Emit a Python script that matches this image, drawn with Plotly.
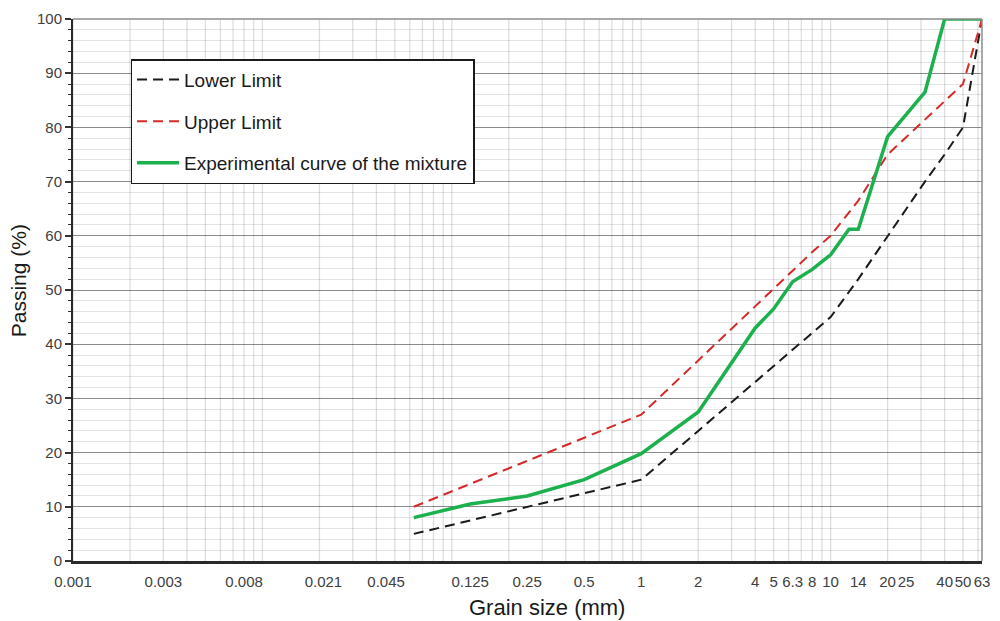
import math
import plotly.graph_objects as go

# ---- data ----
limit_sizes = [0.063, 0.125, 0.25, 0.5, 1, 2, 4, 8, 10, 14, 20, 31.5, 40, 50, 63]
lower_limit = [5, 7.5, 10, 12.5, 15, 24, 33, 42, 45, 52, 60, 70, 75, 80, 100]
upper_limit = [10, 14.2, 18.5, 22.7, 27, 37, 47, 57, 60, 66.5, 75, 81.4, 84.8, 88, 100]

mix_sizes = [0.063, 0.125, 0.25, 0.5, 1, 2, 4, 5, 6.3, 8, 10, 12.5, 14, 20, 31.5, 40, 63]
mix_passing = [8, 10.5, 12, 15, 19.8, 27.5, 43, 46.5, 51.5, 53.8, 56.5, 61.2, 61.2, 78.3, 86.5, 100, 100]

tick_values = [0.001, 0.003, 0.008, 0.021, 0.045, 0.125, 0.25, 0.5, 1, 2, 4, 5, 6.3, 8, 10, 14, 20, 25, 40, 50, 63]
tick_labels = ["0.001", "0.003", "0.008", "0.021", "0.045", "0.125", "0.25", "0.5", "1", "2", "4",
               "5", "6.3", "8", "10", "14", "20", "25", "40", "50", "63"]

x_min, x_max = 0.001, 63
y_min, y_max = 0, 100
# log-paper vertical grid: 1..9 in every decade
grid_values = [k * 10 ** d for d in range(-3, 2) for k in range(1, 10) if k * 10 ** d <= x_max]

FONT = "Liberation Sans, Arial, sans-serif"

fig = go.Figure()

# vertical log grid (drawn through the axes, beneath the curves)
gx, gy = [], []
for v in grid_values:
    gx += [v, v, None]
    gy += [y_min, y_max, None]
fig.add_trace(go.Scatter(x=gx, y=gy, mode="lines", showlegend=False, hoverinfo="skip",
                         line=dict(color="rgba(0,0,0,0.13)", width=1.3)))

fig.add_trace(go.Scatter(x=limit_sizes, y=lower_limit, mode="lines", name="Lower Limit",
                         legendgroup="a",
                         line=dict(color="#1a1a1a", width=2, dash="10px,6px")))
fig.add_trace(go.Scatter(x=limit_sizes, y=upper_limit, mode="lines", name="Upper Limit",
                         legendgroup="b",
                         line=dict(color="#d42a2a", width=2, dash="10px,6px")))
fig.add_trace(go.Scatter(x=mix_sizes, y=mix_passing, mode="lines",
                         name="Experimental curve of the mixture", legendgroup="c",
                         line=dict(color="#1db04e", width=3.5)))

xr = [math.log10(x_min), math.log10(x_max)]

fig.update_layout(
    width=1000, height=621,
    margin=dict(l=73, r=10, t=18, b=60),
    paper_bgcolor="white", plot_bgcolor="white",
    font=dict(family=FONT, color="#404040", size=15),
    showlegend=True,
    legend=dict(x=0.0633, y=0.926, xanchor="left", yanchor="top",
                bgcolor="white", bordercolor="#1a1a1a", borderwidth=1.5,
                font=dict(size=19, color="#1a1a1a", family=FONT),
                tracegroupgap=14, itemwidth=42),
    xaxis=dict(type="log", range=xr, tickmode="array", tickvals=tick_values,
               ticktext=tick_labels, tickangle=0, showgrid=False, zeroline=False,
               ticks="outside", ticklen=5, tickcolor="rgba(0,0,0,0)",
               showline=True, linecolor="#2a2a2a", linewidth=2.5,
               tickfont=dict(size=15, color="#404040")),
    yaxis=dict(range=[y_min, y_max], tickmode="linear", tick0=0, dtick=10,
               showgrid=True, gridcolor="#8c8c8c", gridwidth=1.2, zeroline=False,
               ticks="outside", ticklen=6, tickwidth=1.5, tickcolor="#333333",
               showline=True, linecolor="#2a2a2a", linewidth=2,
               tickfont=dict(size=15, color="#404040"),
               minor=dict(dtick=2, showgrid=True, gridcolor="#e3e3e3", gridwidth=1,
                          ticks="outside", ticklen=3, tickcolor="#333333", tickwidth=1.2)),
    annotations=[
        dict(text="Grain size (mm)", xref="paper", yref="paper", x=0.522, y=-0.085,
             xanchor="center", yanchor="middle", showarrow=False,
             font=dict(size=22, color="#1a1a1a", family=FONT)),
        dict(text="Passing (%)", xref="paper", yref="paper", x=-0.06, y=0.517,
             xanchor="center", yanchor="middle", showarrow=False, textangle=-90,
             font=dict(size=21, color="#1a1a1a", family=FONT)),
    ],
    shapes=[
        dict(type="line", xref="paper", yref="paper", x0=1, x1=1, y0=0, y1=1,
             line=dict(color="#8c8c8c", width=1.5)),
        dict(type="line", xref="paper", yref="paper", x0=0, x1=1, y0=1, y1=1,
             line=dict(color="#8c8c8c", width=1.5)),
    ],
)

fig.write_html("out.html")
